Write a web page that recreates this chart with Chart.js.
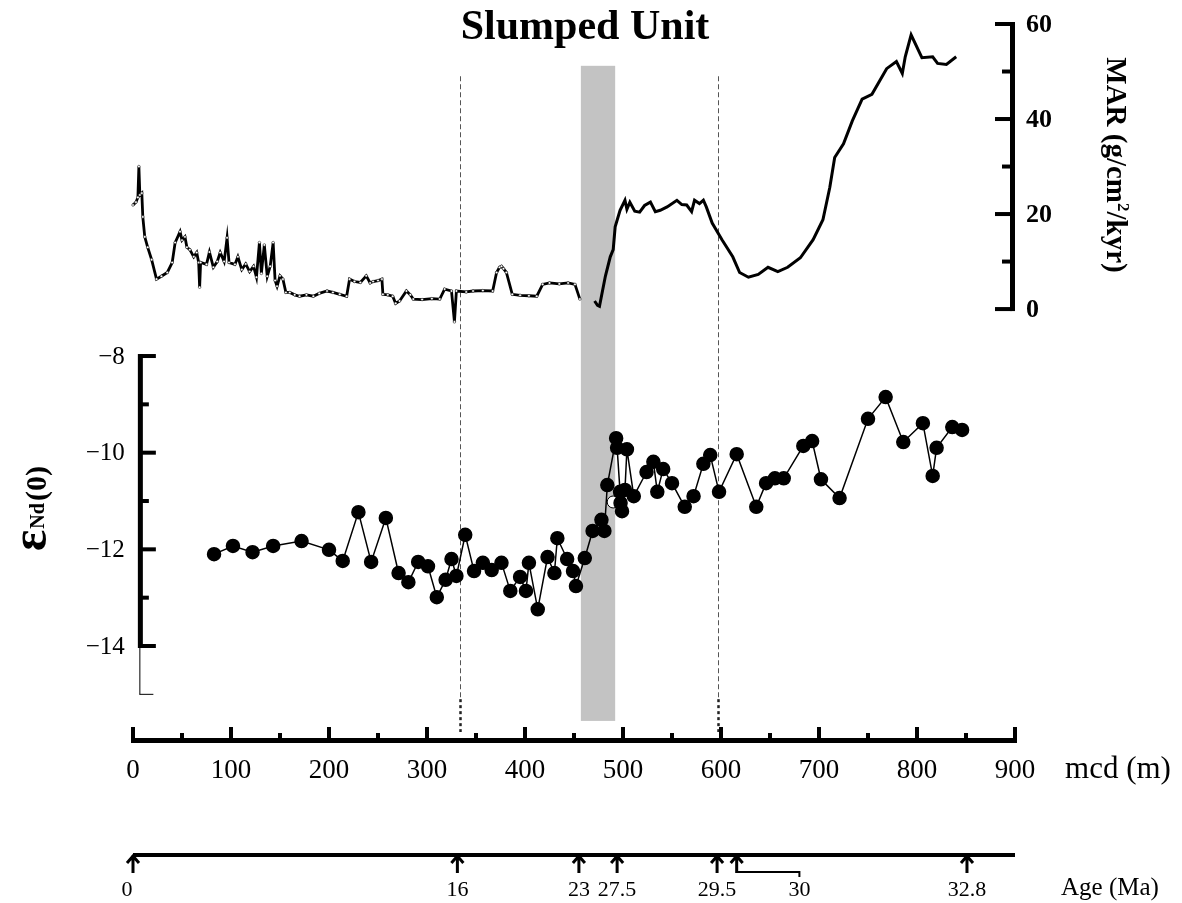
<!DOCTYPE html>
<html>
<head>
<meta charset="utf-8">
<script src="https://cdn.jsdelivr.net/npm/chart.js@4/dist/chart.umd.min.js"></script>
<style>
  html, body { margin: 0; padding: 0; background: #fff; }
</style>
</head>
<body>
<canvas id="slumpChart" width="1182" height="903"></canvas>
<script>
// MAR record, upper part of the core (thin noisy trace)
const marDepthA = [0, 3, 5, 6, 7, 9, 10, 12, 15, 19, 24, 29, 35, 40, 43, 48, 50, 53, 55, 58, 62, 65, 67, 68, 69, 75, 78, 82, 86, 89, 93, 96, 98, 104, 107, 111, 115, 119, 123, 126, 129, 131, 134, 137, 140, 143, 145, 147, 150, 153, 156, 160, 165, 170, 177, 184, 190, 198, 204, 211, 218, 221, 226, 232, 238, 242, 245, 250, 254, 255, 260, 265, 268, 272, 279, 283, 286, 295, 305, 313, 318, 325, 328, 330, 340, 347, 357, 367, 371, 374, 376, 378, 381, 387, 395, 404, 412, 418, 425, 435, 444, 451, 456];
const marValueA = [21.9, 22.5, 23.5, 30.0, 24, 24.4, 19.4, 15.2, 13, 10.4, 6.3, 6.9, 7.7, 9.8, 14, 16.3, 14.5, 15.2, 13, 12.5, 11, 11.9, 9.8, 4.6, 9.8, 9.4, 12, 8.8, 10, 11.9, 10, 15, 9.8, 9.4, 11, 8.3, 9.5, 7.9, 9, 6.7, 14, 7.5, 13.5, 6.9, 9, 14, 6, 4.8, 7, 6.3, 3.5, 3.5, 3.0, 2.7, 3.0, 2.7, 3.3, 3.8, 3.5, 3.1, 2.7, 6.3, 5.8, 5.6, 7.0, 5.5, 5.8, 6.0, 6.3, 3.1, 3.0, 2.7, 1.2, 1.7, 3.8, 3.0, 2.1, 2.0, 2.2, 2.1, 4.2, 3.8, -2.7, 3.8, 3.6, 3.8, 3.9, 3.8, 7.7, 8.8, 9, 8.5, 7.7, 3.1, 2.9, 2.8, 2.7, 5.2, 5.5, 5.3, 5.5, 5.2, 2.1];

// MAR record below the slumped unit (thick trace)
const marDepthB = [471, 474, 476, 482, 487, 490, 492, 497, 502, 504, 507, 512, 517, 522, 528, 533, 538, 545, 555, 560, 565, 570, 573, 578, 582, 585, 591, 601, 612, 619, 628, 638, 648, 658, 668, 681, 694, 704, 711, 716, 725, 734, 744, 754, 769, 779, 785, 788, 794, 805, 816, 821, 830, 840];
const marValueB = [1.7, 0.8, 0.6, 6.9, 11, 12.5, 17.3, 20.8, 22.9, 21.0, 22.5, 20.6, 20.4, 21.8, 22.5, 20.5, 20.8, 21.5, 22.9, 22.0, 21.9, 20.5, 22.9, 22.2, 22.9, 21.5, 18.1, 14.6, 11, 7.7, 6.7, 7.3, 8.8, 7.9, 8.8, 10.8, 14.6, 18.8, 25.6, 31.9, 34.8, 39.6, 44.2, 45.2, 50.6, 52.1, 49.6, 53.1, 57.7, 52.9, 53.1, 51.7, 51.5, 53.1];

// eps Nd(0)
const ndDepth = [82.7, 102, 122, 143, 172, 200, 214, 230, 243, 258, 271, 281, 291, 301, 310, 319, 325, 330, 339, 348, 357, 366, 376, 385, 395, 401, 404, 413, 423, 430, 433, 443, 449, 452, 461, 469, 478, 481, 484, 493, 494, 497, 497.5, 499, 502, 504, 511, 524, 531, 535, 541, 550, 563, 572, 582, 589, 598, 616, 636, 646, 655, 664, 684, 693, 702, 721, 750, 768, 786, 806, 816, 820, 836, 846];
const ndValue = [-12.10, -11.93, -12.06, -11.93, -11.83, -12.01, -12.24, -11.23, -12.26, -11.35, -12.49, -12.68, -12.26, -12.35, -12.99, -12.63, -12.20, -12.55, -11.70, -12.45, -12.28, -12.43, -12.28, -12.86, -12.57, -12.86, -12.28, -13.24, -12.16, -12.49, -11.77, -12.20, -12.45, -12.76, -12.18, -11.62, -11.39, -11.62, -10.67, -9.70, -9.90, -10.81, -11.04, -11.21, -10.77, -9.93, -10.90, -10.40, -10.19, -10.81, -10.34, -10.63, -11.12, -10.90, -10.23, -10.05, -10.81, -10.03, -11.12, -10.63, -10.53, -10.53, -9.86, -9.76, -10.55, -10.94, -9.30, -8.85, -9.78, -9.39, -10.48, -9.90, -9.47, -9.53];
const ndOpenDepth = [490];
const ndOpenValue = [-11.02];

// slumped unit and boundary lines (mcd)
const slumpStart = 457;
const slumpEnd = 492;
const boundaryDepths = [334, 597];

// axes
const mcdTicks = [0, 100, 200, 300, 400, 500, 600, 700, 800, 900];
const marTicks = [0, 20, 40, 60];
const ndTicks = [-8, -10, -12, -14];
const ageLabels = ['0', '16', '23', '27.5', '29.5', '30', '32.8'];
const ageDepths = [0, 331, 455, 494, 596, 616, 851];

const SERIF = '"Liberation Serif", "Times New Roman", serif';

function pairs(xs, ys) {
    return xs.map((v, i) => ({ x: v, y: ys[i] }));
}

const figurePlugin = {
    id: 'figure',
    beforeDatasetsDraw(chart) {
        const { ctx } = chart;
        const x = chart.scales.x, yMar = chart.scales.yMar, yNd = chart.scales.yNd;
        ctx.save();
        // grey band
        const b0 = x.getPixelForValue(slumpStart), b1 = x.getPixelForValue(slumpEnd);
        const top = yMar.getPixelForValue(51.2), bottom = yNd.getPixelForValue(-15.55);
        ctx.fillStyle = '#c3c3c3';
        ctx.fillRect(b0, top, b1 - b0, bottom - top);
        // dashed boundaries
        boundaryDepths.forEach((d) => {
            const px = Math.round(x.getPixelForValue(d)) + 0.5;
            ctx.strokeStyle = '#555';
            ctx.lineWidth = 1;
            ctx.setLineDash([5, 3]);
            ctx.beginPath();
            ctx.moveTo(px, yMar.getPixelForValue(49));
            ctx.lineTo(px, yNd.getPixelForValue(-15.1));
            ctx.stroke();
            ctx.strokeStyle = '#222';
            ctx.lineWidth = 2.5;
            ctx.setLineDash([3, 3]);
            ctx.beginPath();
            ctx.moveTo(px, yNd.getPixelForValue(-15.1));
            ctx.lineTo(px, chart.chartArea.bottom - 8);
            ctx.stroke();
        });
        ctx.restore();
    },
    afterDraw(chart) {
        const { ctx, chartArea } = chart;
        const x = chart.scales.x, yMar = chart.scales.yMar, yNd = chart.scales.yNd;
        ctx.save();
        ctx.fillStyle = '#000';
        ctx.strokeStyle = '#000';

        // title
        ctx.font = 'bold 42px ' + SERIF;
        ctx.textAlign = 'center';
        ctx.textBaseline = 'middle';
        ctx.fillText('Slumped Unit', 585, 28);

        // mcd axis
        const ax = chartArea.bottom;
        const xl = x.getPixelForValue(0), xr = x.getPixelForValue(900);
        ctx.fillRect(xl - 2, ax - 2, xr - xl + 4, 5);
        for (let v = 0; v <= 900; v += 50) {
            const px = x.getPixelForValue(v);
            const h = v % 100 === 0 ? 13 : 7;
            ctx.fillRect(px - 2, ax - h, 4, h);
        }
        ctx.font = '27px ' + SERIF;
        mcdTicks.forEach((v) => ctx.fillText(String(v), x.getPixelForValue(v), ax + 31));
        ctx.font = '31px ' + SERIF;
        ctx.fillText('mcd (m)', 1118, ax + 30);

        // MAR axis (right)
        const mx = x.getPixelForValue(900) - 3;
        const m0 = yMar.getPixelForValue(0), m60 = yMar.getPixelForValue(60);
        ctx.fillRect(mx - 2, m60 - 2, 5, m0 - m60 + 4);
        for (let v = 0; v <= 60; v += 10) {
            const py = yMar.getPixelForValue(v);
            const w = v % 20 === 0 ? 17 : 10;
            ctx.fillRect(mx - w, py - 2, w, 4);
        }
        ctx.font = 'bold 26px ' + SERIF;
        ctx.textAlign = 'left';
        marTicks.forEach((v) => ctx.fillText(String(v), mx + 14, yMar.getPixelForValue(v) + 1));

        // MAR title, rotated
        ctx.save();
        ctx.translate(1107, 165);
        ctx.rotate(Math.PI / 2);
        ctx.textBaseline = 'alphabetic';
        const p1 = 'MAR (g/cm', p2 = '2', p3 = '/kyr)';
        ctx.font = 'bold 29px ' + SERIF;
        const w1 = ctx.measureText(p1).width, w3 = ctx.measureText(p3).width;
        ctx.font = 'bold 17px ' + SERIF;
        const w2 = ctx.measureText(p2).width;
        const sx = -(w1 + w2 + w3) / 2;
        ctx.font = 'bold 29px ' + SERIF;
        ctx.fillText(p1, sx, 0);
        ctx.font = 'bold 17px ' + SERIF;
        ctx.fillText(p2, sx + w1, -11);
        ctx.font = 'bold 29px ' + SERIF;
        ctx.fillText(p3, sx + w1 + w2, 0);
        ctx.restore();

        // eps Nd axis (left)
        const nx = x.getPixelForValue(7);
        const n8 = yNd.getPixelForValue(-8), n14 = yNd.getPixelForValue(-14), n15 = yNd.getPixelForValue(-15);
        ctx.fillRect(nx - 2, n8 - 2, 5, n14 - n8 + 4);
        for (let v = -8; v >= -14; v -= 1) {
            const py = yNd.getPixelForValue(v);
            const w = v % 2 === 0 ? 16 : 9;
            ctx.fillRect(nx, py - 2, w, 4);
        }
        ctx.fillRect(nx - 0.5, n14, 1, n15 - n14);
        ctx.fillRect(nx - 0.5, n15 - 0.5, 14, 1);
        ctx.font = '25px ' + SERIF;
        ctx.textAlign = 'right';
        ndTicks.forEach((v) => ctx.fillText('\u2212' + String(-v), nx - 15, yNd.getPixelForValue(v) + 1));

        // eps Nd title, rotated
        ctx.save();
        ctx.translate(46, 551);
        ctx.rotate(-Math.PI / 2);
        ctx.textAlign = 'left';
        ctx.textBaseline = 'alphabetic';
        ctx.font = 'bold 50px ' + SERIF;
        ctx.fillText('\u03b5', 0, 0);
        let tx = ctx.measureText('\u03b5').width + 1;
        ctx.font = 'bold 20px ' + SERIF;
        ctx.fillText('Nd', tx, -2);
        tx += ctx.measureText('Nd').width + 2;
        ctx.font = 'bold 30px ' + SERIF;
        ctx.fillText('(0)', tx, 0);
        ctx.restore();

        // age axis
        const ay = 855;
        ctx.fillRect(xl, ay - 2, xr - xl, 4);
        ctx.lineWidth = 3;
        ctx.lineCap = 'butt';
        ctx.font = '22px ' + SERIF;
        ctx.textAlign = 'center';
        ctx.textBaseline = 'middle';
        ageDepths.forEach((d, i) => {
            const px = x.getPixelForValue(d);
            ctx.beginPath();
            ctx.moveTo(px, ay);
            ctx.lineTo(px, ay + 18);
            ctx.moveTo(px - 6, ay + 8);
            ctx.lineTo(px, ay + 1);
            ctx.lineTo(px + 6, ay + 8);
            ctx.stroke();
            let lx = px;
            if (ageLabels[i] === '30') {
                lx = x.getPixelForValue(680);
                ctx.lineWidth = 2;
                ctx.beginPath();
                ctx.moveTo(px, ay + 17);
                ctx.lineTo(lx, ay + 17);
                ctx.lineTo(lx, ay + 22);
                ctx.stroke();
                ctx.lineWidth = 3;
            }
            if (d === 0) lx -= 6;
            ctx.fillText(ageLabels[i], lx, ay + 35);
        });
        ctx.font = '25px ' + SERIF;
        ctx.fillText('Age (Ma)', 1110, ay + 33);

        ctx.restore();
    }
};

const ctx = document.getElementById('slumpChart').getContext('2d');

const chart = new Chart(ctx,
    {
        type: 'line',
        data: {
            datasets: [
                {
                    label: 'MAR upper',
                    data: pairs(marDepthA, marValueA),
                    xAxisID: 'x',
                    yAxisID: 'yMar',
                    borderColor: '#000',
                    borderWidth: 2.8,
                    pointRadius: 1.3,
                    pointBackgroundColor: '#fff',
                    pointBorderColor: '#000',
                    pointBorderWidth: 0.5,
                    tension: 0
                },
                {
                    label: 'MAR lower',
                    data: pairs(marDepthB, marValueB),
                    xAxisID: 'x',
                    yAxisID: 'yMar',
                    borderColor: '#000',
                    borderWidth: 3,
                    pointRadius: 0,
                    tension: 0
                },
                {
                    label: 'eNd',
                    data: pairs(ndDepth, ndValue),
                    xAxisID: 'x',
                    yAxisID: 'yNd',
                    borderColor: '#000',
                    borderWidth: 1.5,
                    pointRadius: 6.5,
                    pointBackgroundColor: '#000',
                    pointBorderColor: '#000',
                    tension: 0
                },
                {
                    label: 'eNd open',
                    data: pairs(ndOpenDepth, ndOpenValue),
                    xAxisID: 'x',
                    yAxisID: 'yNd',
                    showLine: false,
                    pointRadius: 6,
                    pointBackgroundColor: '#fff',
                    pointBorderColor: '#000',
                    pointBorderWidth: 1
                }
            ]
        },
        options: {
            responsive: false,
            devicePixelRatio: 1,
            animation: false,
            clip: false,
            layout: { padding: { left: 133, right: 167, top: 24, bottom: 163 } },
            plugins: {
                legend: { display: false },
                tooltip: { enabled: false }
            },
            scales: {
                x: { type: 'linear', min: 0, max: 900, display: false },
                // ranges chosen so 0-60 sits in the upper panel
                yMar: { type: 'linear', min: -90.7, max: 60, display: false },
                // ranges chosen so -8..-15 sits in the lower panel
                yNd: { type: 'linear', min: -15.945, max: -1.13, display: false }
            }
        },
        plugins: [figurePlugin]
    });
</script>
</body>
</html>
